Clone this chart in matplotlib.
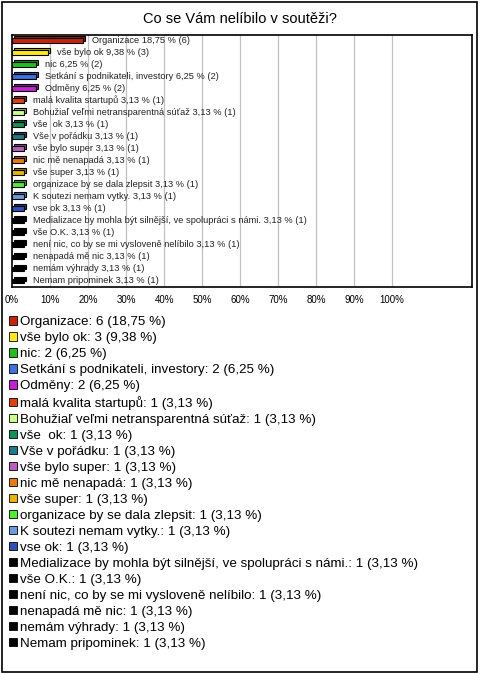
import matplotlib
matplotlib.use("Agg")
import matplotlib.pyplot as plt
import matplotlib.transforms as mtransforms
from matplotlib.patches import Patch, Rectangle
import matplotlib.colors as mcolors

plt.rcParams['font.family'] = ['Liberation Sans', 'DejaVu Sans']

title = "Co se Vám nelíbilo v soutěži?"
categories = [
    "Organizace", "vše bylo ok", "nic", "Setkání s podnikateli, investory", "Odměny",
    "malá kvalita startupů", "Bohužiaľ veľmi netransparentná súťaž", "vše  ok",
    "Vše v pořádku", "vše bylo super", "nic mě nenapadá", "vše super",
    "organizace by se dala zlepsit", "K soutezi nemam vytky.", "vse ok",
    "Medializace by mohla být silnější, ve spolupráci s námi.", "vše O.K.",
    "není nic, co by se mi vysloveně nelíbilo", "nenapadá mě nic", "nemám výhrady",
    "Nemam pripominek",
]
counts = [6, 3, 2, 2, 2, 1, 1, 1, 1, 1, 1, 1, 1, 1, 1, 1, 1, 1, 1, 1, 1]
percents = [18.75, 9.38, 6.25, 6.25, 6.25, 3.13, 3.13, 3.13, 3.13, 3.13, 3.13, 3.13,
            3.13, 3.13, 3.13, 3.13, 3.13, 3.13, 3.13, 3.13, 3.13]
colors = ["#C8210C", "#FFE81A", "#1FBF1F", "#3F6FE0", "#C81FD0", "#E0400F", "#CCFF88",
          "#10905A", "#1F7A8C", "#B85FC0", "#E87A12", "#E8B400", "#50EE30", "#6A9AE0",
          "#2E50B8", "#000000", "#000000", "#000000", "#000000", "#000000", "#000000"]
xticks = [0, 10, 20, 30, 40, 50, 60, 70, 80, 90, 100]
xticklabels = ["0%", "10%", "20%", "30%", "40%", "50%", "60%", "70%", "80%", "90%", "100%"]


def fmt(v):
    return f"{v:.2f}".replace(".", ",")


W, H = 480, 673
fig = plt.figure(figsize=(W / 100, H / 100), dpi=100)
fig.patch.set_facecolor("white")

ax = fig.add_axes([12 / W, 1 - 287 / H, 460 / W, 252 / H])
n = len(categories)
ypos = list(range(n))
ax.set_xlim(0, 121)
ax.set_ylim(n - 0.5, -0.45)

for x in xticks[1:]:
    ax.axvline(x, color="#C0C0C0", lw=0.9, zorder=0)

# 3D effect: back face offset up-right
back = mtransforms.offset_copy(ax.transData, fig=fig, x=2, y=2, units="dots")
darker = [tuple(c * 0.7 for c in mcolors.to_rgb(col)) for col in colors]
ax.barh(ypos, percents, height=0.4, color=darker, edgecolor="black", lw=0.8,
        transform=back, zorder=2)
ax.barh(ypos, percents, height=0.4, color=colors, edgecolor="black", lw=0.8, zorder=3)

lab_off = mtransforms.offset_copy(ax.transData, fig=fig, x=9, y=0, units="dots")
for i, (c, p, k) in enumerate(zip(categories, percents, counts)):
    ax.text(p, i, f"{c} {fmt(p)} % ({k})", transform=lab_off, ha="left", va="center",
            fontsize=6.7, color="#222222", zorder=4)

ax.set_xticks(xticks)
ax.set_xticklabels(xticklabels, fontsize=7)
ax.tick_params(axis="x", length=0, pad=6)
ax.set_yticks([])
for s in ax.spines.values():
    s.set_color("black")
    s.set_linewidth(1.2)

fig.text(240 / W, 1 - 19 / H, title, ha="center", va="center", fontsize=10.5)

handles = [Patch(facecolor=col, edgecolor="black", lw=0.6) for col in colors]
labels = [f"{c}: {k} ({fmt(p)} %)" for c, k, p in zip(categories, counts, percents)]
fig.legend(handles, labels, loc="upper left", bbox_to_anchor=(9 / W, 1 - 316 / H),
           frameon=False, fontsize=9.6, handlelength=0.6, handleheight=0.6,
           handletextpad=0.25, labelspacing=0.30, borderaxespad=0, borderpad=0)

fig.add_artist(Rectangle((1.5 / W, 1.5 / H), 475 / W, 670 / H, transform=fig.transFigure,
                         fill=False, edgecolor="black", lw=1.2))

fig.savefig("out.png", dpi=100)
